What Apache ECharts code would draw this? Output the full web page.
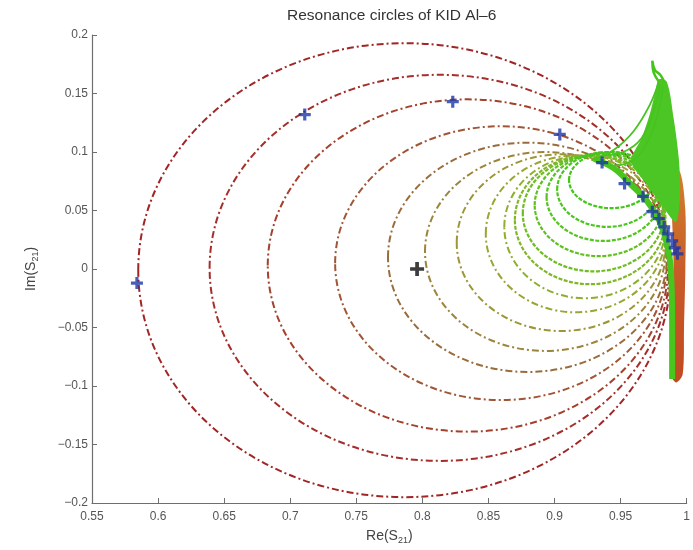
<!DOCTYPE html>
<html>
<head>
<meta charset="utf-8">
<script src="https://cdn.jsdelivr.net/npm/echarts@6/dist/echarts.min.js"></script>
<style>
  html, body { margin: 0; padding: 0; background: #ffffff; }
  #chart { width: 693px; height: 550px; }
</style>
</head>
<body>
<div id="chart"></div>
<script>
// Extents of each resonance sweep in the complex S21 plane (outer / low power first)
const circleLeft   = [0.585, 0.639, 0.683, 0.734, 0.774, 0.802, 0.826, 0.848, 0.862, 0.870, 0.876, 0.885, 0.894, 0.902, 0.911];
const circleRight  = [0.988, 0.987, 0.986, 0.985, 0.985, 0.984, 0.984, 0.984, 0.984, 0.984, 0.983, 0.982, 0.980, 0.978, 0.975];
const circleTop    = [0.193, 0.166, 0.145, 0.122, 0.108, 0.100, 0.098, 0.097, 0.097, 0.097, 0.097, 0.098, 0.099, 0.100, 0.100];
const circleBottom = [-0.195, -0.164, -0.139, -0.112, -0.088, -0.070, -0.053, -0.037, -0.025, -0.013, -0.002, 0.011, 0.024, 0.036, 0.052];

// Resonance frequency point on each sweep
const resRe = [0.584, 0.711, 0.823, 0.904, 0.936, 0.953, 0.967, 0.974, 0.979, 0.983, 0.986, 0.989, 0.991, 0.993];
const resIm = [-0.012, 0.132, 0.143, 0.115, 0.091, 0.073, 0.062, 0.049, 0.043, 0.036, 0.030, 0.024, 0.018, 0.013];

// Fitted centre
const centreRe = [0.796];
const centreIm = [0.000];

// Off-resonance cluster of the low-power sweeps (right edge)
const stripRe = [0.989, 0.995, 0.999, 0.999, 0.998, 0.997, 0.992, 0.988, 0.990, 0.990];
const stripIm = [0.078, 0.083, 0.050, 0.000, -0.050, -0.090, -0.097, -0.090, -0.045, 0.010];

// High-power sweeps: fan rising towards the upper spike
const spikeRe = [0.958, 0.966, 0.972, 0.976, 0.979, 0.985, 0.990, 0.994, 0.995, 0.992, 0.984, 0.970];
const spikeIm = [0.092, 0.112, 0.132, 0.150, 0.162, 0.160, 0.130, 0.095, 0.065, 0.040, 0.050, 0.072];

// Curl at the top of the spike
const tipRe = [0.979, 0.975, 0.974, 0.976, 0.980, 0.983];
const tipIm = [0.160, 0.168, 0.178, 0.170, 0.166, 0.160];

// Dense band following the resonance points down the right edge
const bandRe = [0.930, 0.945, 0.958, 0.970, 0.979, 0.985, 0.988, 0.989, 0.989];
const bandIm = [0.094, 0.086, 0.072, 0.058, 0.042, 0.022, 0.000, -0.045, -0.094];

// Fan lines from the loop to the spike
const fanRe = [[0.928, 0.945, 0.960, 0.972, 0.979], [0.935, 0.952, 0.966, 0.975, 0.980], [0.940, 0.958, 0.970, 0.978, 0.982]];
const fanIm = [[0.093, 0.102, 0.118, 0.140, 0.160], [0.097, 0.100, 0.112, 0.135, 0.158], [0.088, 0.092, 0.108, 0.132, 0.156]];

const circleColor = ['#a02626', '#a42e2a', '#a4402c', '#a05636', '#9a6c3c', '#9c843a', '#9c9636', '#9aa632', '#8eae2e',
                     '#80b628', '#70bc24', '#60c020', '#54c41e', '#4ac61c', '#42c61a'];

const FONT = 'Liberation Sans, Arial, sans-serif';
const axisColor = '#6e6e6e';

const chart = echarts.init(document.getElementById('chart'), null, { renderer: 'canvas' });

function pairs(xs, ys) { return xs.map((x, i) => [x, ys[i]]); }

function polygonSeries(xs, ys, fill, z) {
  return {
    type: 'custom',
    data: pairs(xs, ys),
    z: z,
    silent: true,
    renderItem: function (params, api) {
      if (params.dataIndex !== 0) return null;
      const pts = xs.map((x, i) => api.coord([x, ys[i]]));
      return { type: 'polygon', shape: { points: pts, smooth: 0.3 }, style: { fill: fill, stroke: null } };
    }
  };
}

function lineSeries(xs, ys, color, width, z) {
  return {
    type: 'line',
    data: pairs(xs, ys),
    showSymbol: false,
    smooth: 0.4,
    z: z,
    silent: true,
    lineStyle: { color: color, width: width }
  };
}

const plusPath = 'path://M4.4,0H7.6V4.4H12V7.6H7.6V12H4.4V7.6H0V4.4H4.4Z';

const series = [];

series.push(polygonSeries(stripRe, stripIm,
  new echarts.graphic.LinearGradient(0, 0, 0, 1, [
    { offset: 0, color: '#d0802c' },
    { offset: 0.5, color: '#c85a28' },
    { offset: 1, color: '#c04a22' }
  ]), 1));

series.push({
  type: 'custom',
  z: 2,
  silent: true,
  encode: { x: [0, 1], y: [2, 3] },
  data: circleLeft.map((l, i) => [l, circleRight[i], circleTop[i], circleBottom[i]]),
  renderItem: function (params, api) {
    const i = params.dataIndex;
    const p1 = api.coord([api.value(0), api.value(2)]);
    const p2 = api.coord([api.value(1), api.value(3)]);
    const green = i >= 9;
    return {
      type: 'ellipse',
      shape: {
        cx: (p1[0] + p2[0]) / 2,
        cy: (p1[1] + p2[1]) / 2,
        rx: Math.abs(p2[0] - p1[0]) / 2,
        ry: Math.abs(p2[1] - p1[1]) / 2
      },
      style: {
        fill: 'none',
        stroke: circleColor[i],
        lineWidth: green ? 2.2 : 2,
        lineDash: green ? [4, 1.5] : [7, 3, 2, 3]
      }
    };
  }
});

series.push(polygonSeries(spikeRe, spikeIm, '#4cc625', 3));
for (let k = 0; k < fanRe.length; k++) series.push(lineSeries(fanRe[k], fanIm[k], '#46c41e', 1.8, 3));
series.push(lineSeries(bandRe, bandIm, '#48c61e', 6, 3));
series.push(lineSeries(tipRe, tipIm, '#46c41e', 2.5, 3));

series.push({
  type: 'scatter',
  z: 5,
  data: pairs(resRe, resIm),
  symbol: plusPath,
  symbolSize: 12,
  itemStyle: { color: '#1c36a6' },
  silent: true
});

series.push({
  type: 'scatter',
  z: 5,
  data: pairs(centreRe, centreIm),
  symbol: plusPath,
  symbolSize: 14,
  itemStyle: { color: '#0c0c0c' },
  silent: true
});

const option = {
  animation: false,
  backgroundColor: '#ffffff',
  title: {
    text: 'Resonance circles of KID Al\u20136',
    left: 282,
    top: 3,
    textStyle: { fontFamily: FONT, fontSize: 15.5, fontWeight: 'normal', color: '#333333' }
  },
  grid: { left: 92, right: 6, top: 35, bottom: 43, containLabel: false },
  xAxis: {
    type: 'value',
    min: 0.55, max: 1, interval: 0.05,
    name: 'Re(S{s|21})',
    nameLocation: 'middle',
    nameGap: 24,
    nameTextStyle: {
      fontFamily: FONT, fontSize: 14, color: '#444444',
      rich: { s: { fontFamily: FONT, fontSize: 9, color: '#444444', padding: [9, 0, 0, 0] } }
    },
    axisLine: { show: true, onZero: false, lineStyle: { color: axisColor, width: 1.2 } },
    axisTick: { show: true, inside: true, length: 5, lineStyle: { color: axisColor } },
    axisLabel: { fontFamily: FONT, fontSize: 12, color: '#555555', margin: 8,
                 formatter: v => String(+v.toFixed(2)) },
    splitLine: { show: false }
  },
  yAxis: {
    type: 'value',
    min: -0.2, max: 0.2, interval: 0.05,
    name: 'Im(S{s|21})',
    nameLocation: 'middle',
    nameGap: 52,
    nameRotate: 90,
    nameTextStyle: {
      fontFamily: FONT, fontSize: 14, color: '#444444',
      rich: { s: { fontFamily: FONT, fontSize: 9, color: '#444444', padding: [9, 0, 0, 0] } }
    },
    axisLine: { show: true, onZero: false, lineStyle: { color: axisColor, width: 1.2 } },
    axisTick: { show: true, inside: true, length: 5, lineStyle: { color: axisColor } },
    axisLabel: { fontFamily: FONT, fontSize: 12, color: '#555555', margin: 4,
                 formatter: v => String(+v.toFixed(2)).replace('-', '\u2212') },
    splitLine: { show: false }
  },
  series: series
};

chart.setOption(option);
</script>
</body>
</html>
